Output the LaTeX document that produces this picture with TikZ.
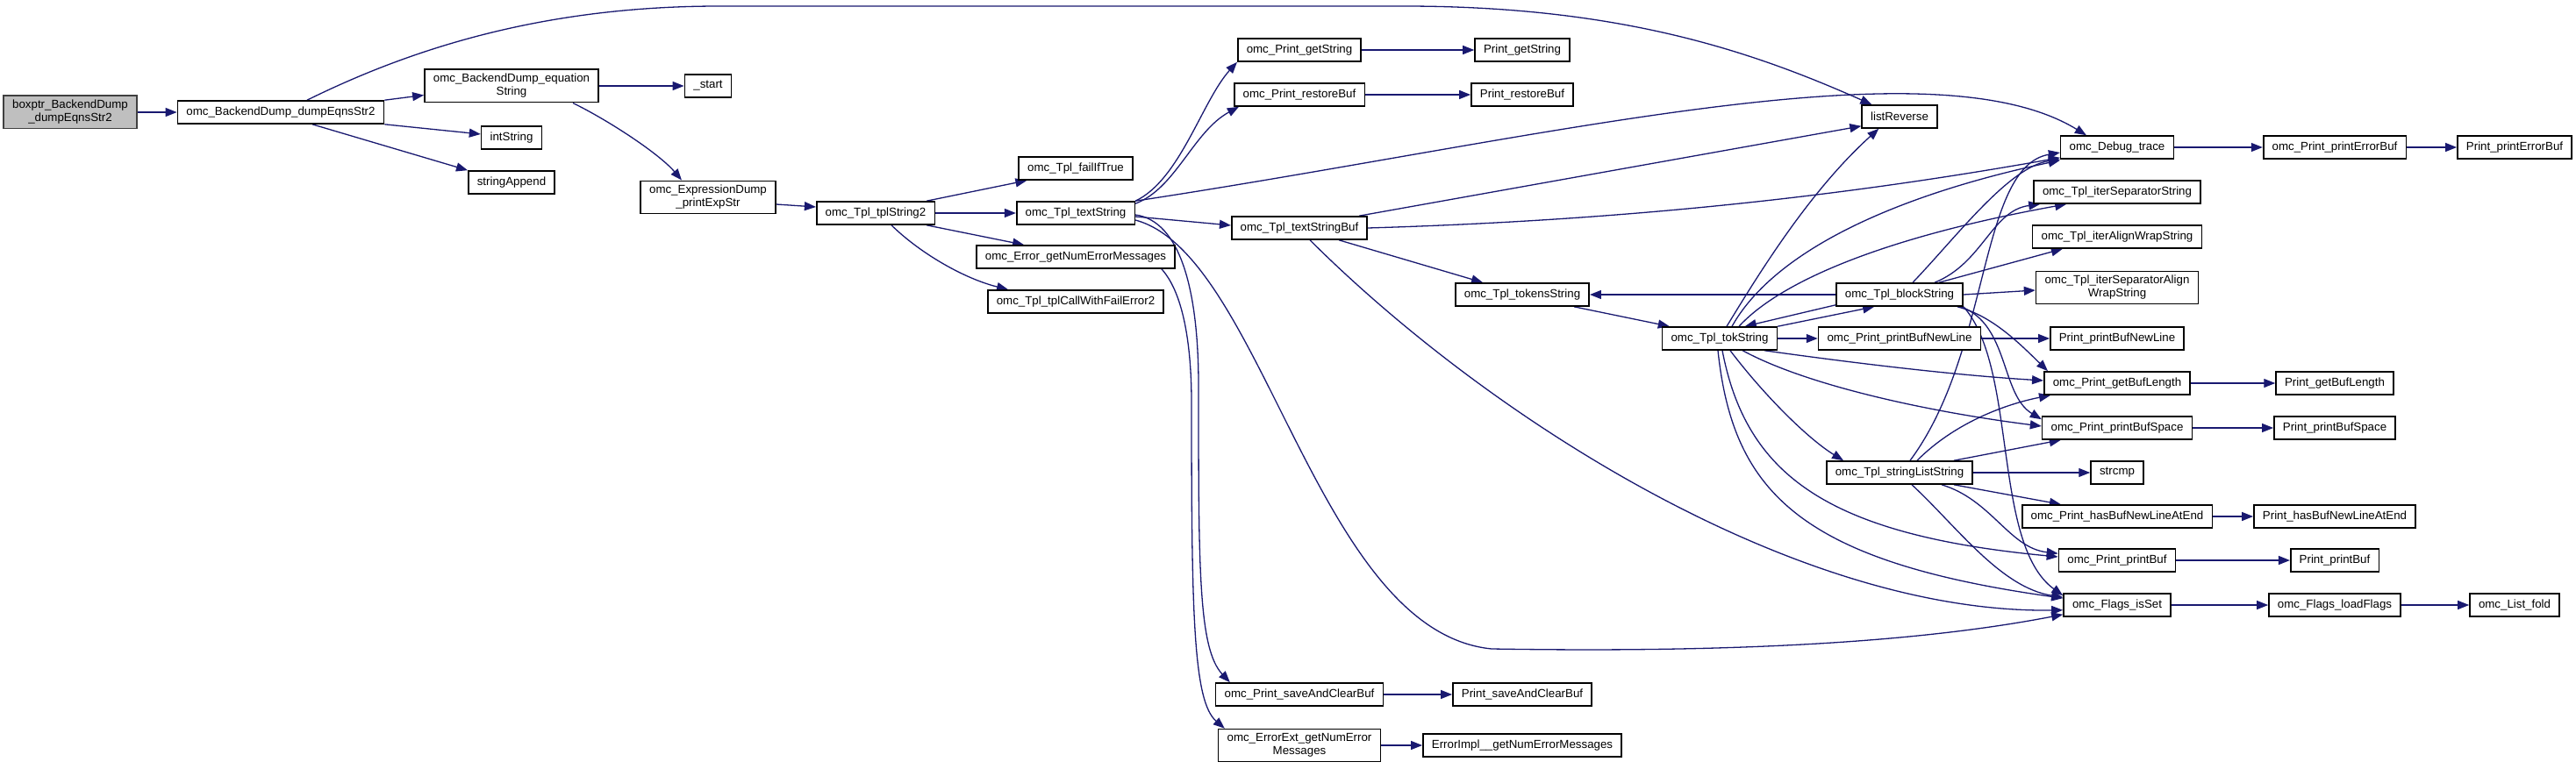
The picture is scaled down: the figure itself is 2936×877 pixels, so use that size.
\documentclass[tikz,border=0pt]{standalone}
\usepackage{fontspec}
\setmainfont{Liberation Sans}
\usetikzlibrary{arrows.meta,backgrounds}
\definecolor{callblue}{RGB}{25,25,112}
\definecolor{rootfill}{RGB}{191,191,191}
\definecolor{rootdraw}{RGB}{64,64,64}

\begin{document}
\begin{tikzpicture}[x=1pt, y=-1pt,
    fn/.style={rectangle, draw=black, line width=1.6pt, fill=white,
               font=\fontsize{13.3}{15}\selectfont, align=center,
               inner xsep=10pt, inner ysep=5pt, minimum height=26pt},
    root/.style={fn, fill=rootfill, draw=rootdraw},
    calls/.style={draw=callblue, line width=1.3pt, -{Triangle[length=13pt,width=10pt]}}]
\useasboundingbox (0,0) rectangle (2936,877);
% caller and first level
\node[root] (root) at (80,128) {boxptr\_BackendDump\\\_dumpEqnsStr2};
\node[fn] (dump) at (320,128) {omc\_BackendDump\_dumpEqnsStr2};
\node[fn] (eqstr) at (583,98) {omc\_BackendDump\_equation\\String};
\node[fn] (intstr) at (583,157) {intString};
\node[fn] (strapp) at (583,208) {stringAppend};
\node[fn] (start) at (807,98) {\_start};
\node[fn] (expdump) at (807,225) {omc\_ExpressionDump\\\_printExpStr};
\node[fn] (tplstr2) at (998,243) {omc\_Tpl\_tplString2};
% template layer
\node[fn] (failif) at (1226,192) {omc\_Tpl\_failIfTrue};
\node[fn] (textstr) at (1226,243) {omc\_Tpl\_textString};
\node[fn] (errnum) at (1226,293) {omc\_Error\_getNumErrorMessages};
\node[fn] (tplcall) at (1226,344) {omc\_Tpl\_tplCallWithFailError2};
\node[fn] (pgetstr) at (1481,57) {omc\_Print\_getString};
\node[fn] (prestore) at (1481,108) {omc\_Print\_restoreBuf};
\node[fn] (tsbuf) at (1481,260) {omc\_Tpl\_textStringBuf};
\node[fn] (psave) at (1481,792) {omc\_Print\_saveAndClearBuf};
\node[fn] (errext) at (1481,850) {omc\_ErrorExt\_getNumError\\Messages};
\node[fn] (Pgetstr) at (1735,57) {Print\_getString};
\node[fn] (Prestore) at (1735,108) {Print\_restoreBuf};
\node[fn] (tokens) at (1735,336) {omc\_Tpl\_tokensString};
\node[fn] (Psave) at (1735,792) {Print\_saveAndClearBuf};
\node[fn] (errimpl) at (1735,850) {ErrorImpl\_\_getNumErrorMessages};
\node[fn] (tok) at (1960,386) {omc\_Tpl\_tokString};
\node[fn] (listrev) at (2165,133) {listReverse};
\node[fn] (block) at (2165,336) {omc\_Tpl\_blockString};
\node[fn] (pnewline) at (2165,386) {omc\_Print\_printBufNewLine};
\node[fn] (strlist) at (2165,539) {omc\_Tpl\_stringListString};
% print buffer layer
\node[fn] (dbg) at (2413,168) {omc\_Debug\_trace};
\node[fn] (itersep) at (2413,219) {omc\_Tpl\_iterSeparatorString};
\node[fn] (iteralign) at (2413,270) {omc\_Tpl\_iterAlignWrapString};
\node[fn] (itersepalign) at (2413,328) {omc\_Tpl\_iterSeparatorAlign\\WrapString};
\node[fn] (Pnewline) at (2413,386) {Print\_printBufNewLine};
\node[fn] (pgetlen) at (2413,437) {omc\_Print\_getBufLength};
\node[fn] (pspace) at (2413,488) {omc\_Print\_printBufSpace};
\node[fn] (strcmp) at (2413,539) {strcmp};
\node[fn] (phasnl) at (2413,589) {omc\_Print\_hasBufNewLineAtEnd};
\node[fn] (pbuf) at (2413,639) {omc\_Print\_printBuf};
\node[fn] (isset) at (2413,690) {omc\_Flags\_isSet};
\node[fn] (perrbuf) at (2661,168) {omc\_Print\_printErrorBuf};
\node[fn] (Pgetlen) at (2661,437) {Print\_getBufLength};
\node[fn] (Pspace) at (2661,488) {Print\_printBufSpace};
\node[fn] (Phasnl) at (2661,589) {Print\_hasBufNewLineAtEnd};
\node[fn] (Pbuf) at (2661,639) {Print\_printBuf};
\node[fn] (loadflags) at (2661,690) {omc\_Flags\_loadFlags};
\node[fn] (Perrbuf) at (2866,168) {Print\_printErrorBuf};
\node[fn] (listfold) at (2866,690) {omc\_List\_fold};
\begin{scope}[on background layer]
% calls from the dump functions
\draw[calls] (root) -- (dump);
\draw[calls] (dump.north east) -- ([yshift=9pt]eqstr.south west);
\draw[calls] (dump.south east) -- ([yshift=4pt]intstr.west);
\draw[calls] ([xshift=36pt]dump.south) -- (strapp.north west);
\draw[calls] ([xshift=30pt]dump.north) .. controls (470,55) and (620,7) .. (820,7)
  -- (1600,7) .. controls (1850,7) and (2000,60) .. ([xshift=12pt]listrev.north west);
\draw[calls] (eqstr) -- (start);
\draw[calls] ([xshift=70pt]eqstr.south) .. controls (693,137) and (751,175) .. ([xshift=-30pt]expdump.north);
\draw[calls] ([yshift=-8pt]expdump.east) -- ([yshift=7pt]tplstr2.west);
% calls from omc_Tpl_tplString2
\draw[calls] ([xshift=-10pt]tplstr2.north east) -- ([xshift=10pt]failif.south west);
\draw[calls] (tplstr2) -- (textstr);
\draw[calls] ([xshift=-10pt]tplstr2.south east) -- ([xshift=55pt]errnum.north west);
\draw[calls] ([xshift=18pt]tplstr2.south) .. controls (1050,290) and (1100,318) .. ([xshift=24pt]tplcall.north west);
% calls from omc_Tpl_textString
\draw[calls] (textstr.north east) .. controls (1345,205) and (1370,115) .. (pgetstr.south west);
\draw[calls] ([yshift=-3pt]textstr.north east) .. controls (1340,215) and (1360,150) .. ([xshift=6pt]prestore.south west);
\draw[calls] (textstr.north east) .. controls (1750,160) and (2200,45) .. ([xshift=30pt]dbg.north west);
\draw[calls] ([yshift=-4pt]textstr.east) -- ([yshift=3pt]tsbuf.west);
\draw[calls] ([yshift=-2pt]textstr.east) .. controls (1345,252) and (1366,330) .. (1366,440)
  .. controls (1366,650) and (1366,740) .. ([xshift=17pt]psave.north west);
\draw[calls] ([yshift=-8pt]textstr.east) .. controls (1440,290) and (1500,720) .. (1700,740)
  .. controls (2000,745) and (2200,730) .. ([yshift=3pt]isset.south west);
\draw[calls] ([xshift=-16pt]errnum.south east) .. controls (1345,330) and (1358,380) .. (1358,460)
  .. controls (1358,700) and (1360,800) .. ([xshift=8pt]errext.north west);
% calls from omc_Tpl_textStringBuf
\draw[calls] ([xshift=-10pt]tsbuf.north east) -- ([yshift=3pt]listrev.south west);
\draw[calls] (tsbuf.east) .. controls (1900,250) and (2150,215) .. ([yshift=2pt]dbg.south west);
\draw[calls] ([xshift=-33pt]tsbuf.south east) -- ([xshift=32pt]tokens.north west);
\draw[calls] ([xshift=12pt]tsbuf.south) .. controls (1700,480) and (2050,700) .. ([yshift=8pt]isset.south west);
% tokens and blocks
\draw[calls] ([xshift=-18pt]tokens.south east) -- ([xshift=9pt]tok.north west);
\draw[calls] (block) -- (tokens);
\draw[calls] (tok.north east) -- ([xshift=44pt]block.south west);
\draw[calls] ([yshift=2pt]block.south west) -- ([xshift=95pt]tok.north west);
% calls from omc_Tpl_tokString
\draw[calls] ([xshift=8pt]tok.north) .. controls (2000,320) and (2060,220) .. ([xshift=20pt]listrev.south west);
\draw[calls] ([xshift=14pt]tok.north) .. controls (2020,290) and (2150,225) .. ([yshift=-1pt]dbg.south west);
\draw[calls] ([xshift=22pt]tok.north) .. controls (2030,320) and (2150,270) .. ([xshift=38pt]itersep.south west);
\draw[calls] (tok) -- (pnewline);
\draw[calls] ([xshift=-15pt]tok.south east) .. controls (2120,415) and (2230,428) .. ([yshift=3pt]pgetlen.west);
\draw[calls] ([xshift=-40pt]tok.south east) .. controls (2060,440) and (2200,470) .. ([yshift=2pt]pspace.west);
\draw[calls] ([xshift=12pt]tok.south) .. controls (2010,450) and (2060,500) .. ([xshift=20pt]strlist.north west);
\draw[calls] ([xshift=3pt]tok.south) .. controls (1990,540) and (2080,610) .. ([yshift=4pt]pbuf.west);
\draw[calls] ([xshift=-2pt]tok.south) .. controls (1975,560) and (2050,640) .. ([yshift=-6pt]isset.north west);
% calls from omc_Tpl_blockString
\draw[calls] ([xshift=15pt]block.north) .. controls (2230,270) and (2290,190) .. (dbg.south west);
\draw[calls] ([xshift=40pt]block.north) .. controls (2260,300) and (2270,240) .. ([xshift=8pt]itersep.south west);
\draw[calls] ([xshift=45pt]block.north) -- ([xshift=35pt]iteralign.south west);
\draw[calls] (block.east) -- ([yshift=-3pt]itersepalign.west);
\draw[calls] ([xshift=-7pt]block.south east) .. controls (2270,360) and (2300,390) .. ([xshift=5pt]pgetlen.north west);
\draw[calls] ([xshift=-3pt]block.south east) .. controls (2290,370) and (2280,450) .. ([yshift=-4pt]pspace.north west);
\draw[calls] (block.south east) .. controls (2300,420) and (2270,620) .. ([yshift=-3pt]isset.north west);
% calls from omc_Tpl_stringListString
\draw[calls] ([xshift=12pt]strlist.north) .. controls (2270,400) and (2255,190) .. ([yshift=-6pt]dbg.west);
\draw[calls] ([xshift=20pt]strlist.north) .. controls (2230,480) and (2290,460) .. ([xshift=8pt]pgetlen.south west);
\draw[calls] ([xshift=62pt]strlist.north) -- ([xshift=22pt]pspace.south west);
\draw[calls] (strlist) -- (strcmp);
\draw[calls] ([xshift=62pt]strlist.south) -- ([xshift=45pt]phasnl.north west);
\draw[calls] ([xshift=48pt]strlist.south) .. controls (2270,570) and (2290,625) .. ([yshift=-6pt]pbuf.north west);
\draw[calls] ([xshift=14pt]strlist.south) .. controls (2230,600) and (2280,670) .. ([yshift=-5pt]isset.north west);
% wrappers into the runtime
\draw[calls] (pgetstr) -- (Pgetstr);
\draw[calls] (prestore) -- (Prestore);
\draw[calls] (psave) -- (Psave);
\draw[calls] (errext) -- (errimpl);
\draw[calls] (dbg) -- (perrbuf);
\draw[calls] (perrbuf) -- (Perrbuf);
\draw[calls] (pnewline) -- (Pnewline);
\draw[calls] (pgetlen) -- (Pgetlen);
\draw[calls] (pspace) -- (Pspace);
\draw[calls] (phasnl) -- (Phasnl);
\draw[calls] (pbuf) -- (Pbuf);
\draw[calls] (isset) -- (loadflags);
\draw[calls] (loadflags) -- (listfold);
\end{scope}
\end{tikzpicture}
\end{document}
